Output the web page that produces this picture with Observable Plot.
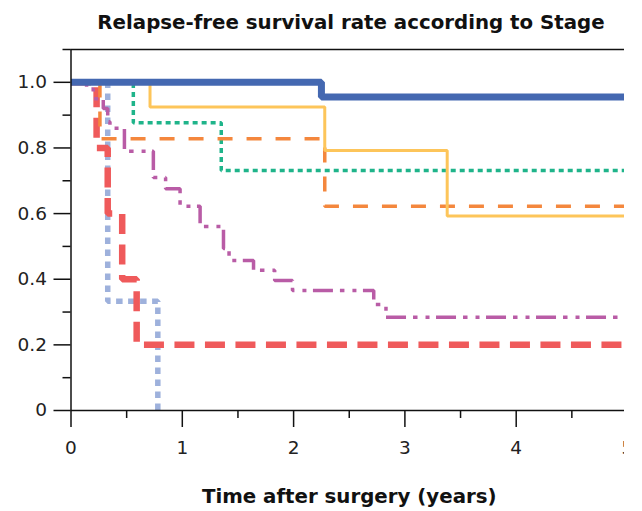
<!DOCTYPE html>
<html>
<head>
<meta charset="utf-8">
<script src="https://cdn.jsdelivr.net/npm/d3@7"></script>
<script src="https://cdn.jsdelivr.net/npm/@observablehq/plot@0.6"></script>
<style>
  body { margin: 0; background: #fff; }
  #page { position: relative; width: 642px; height: 511px; background: #fff; font-family: "DejaVu Sans", Verdana, sans-serif; }
  #title { position: absolute; left: 60px; width: 582px; top: 13px; font-size: 19.8px; line-height: 20px; font-weight: bold; text-align: center; color: #111; white-space: nowrap; }
  #clip { position: absolute; left: 0; top: 40px; width: 624px; height: 471px; overflow: hidden; }
  #clip svg { max-width: none !important; width: 642px !important; height: 471px !important; }
</style>
</head>
<body>
<div id="page">
  <div id="title">Relapse-free survival rate according to Stage</div>
  <div id="clip"></div>
</div>
<script>
// ---- data (time in years, relapse-free survival proportion) ----
const stageBlueT   = [0, 2.25, 5];
const stageBlueV   = [1, 0.955, 0.955];
const stageYellowT = [0, 0.71, 2.28, 3.38, 5];
const stageYellowV = [1, 0.925, 0.792, 0.593, 0.593];
const stageGreenT  = [0, 0.56, 1.35, 5];
const stageGreenV  = [1, 0.877, 0.731, 0.731];
const stageOrangeT = [0, 0.26, 2.28, 5];
const stageOrangeV = [1, 0.828, 0.622, 0.622];
const stagePurpleT = [0, 0.14, 0.2, 0.29, 0.33, 0.35, 0.48, 0.74, 0.85, 0.98, 1.16, 1.37, 1.42, 1.64, 1.83, 1.99, 2.72, 2.83, 5];
const stagePurpleV = [1, 0.98, 0.95, 0.92, 0.88, 0.86, 0.79, 0.71, 0.676, 0.622, 0.561, 0.494, 0.457, 0.427, 0.396, 0.366, 0.323, 0.284, 0.284];
const stageRedT    = [0, 0.23, 0.33, 0.46, 0.59, 5];
const stageRedV    = [1, 0.8, 0.6, 0.4, 0.2, 0.2];
const stageLightT  = [0, 0.33, 0.78];
const stageLightV  = [1, 0.333, 0];

const xDomain = [0, 5];
const yDomain = [0, 1.1];
const xMajor = [0, 1, 2, 3, 4, 5];
const xMinor = [0.5, 1.5, 2.5, 3.5, 4.5];
const yMajor = [0, 0.2, 0.4, 0.6, 0.8, 1.0];
const yMinor = [0.1, 0.3, 0.5, 0.7, 0.9, 1.1];
const xLabel = "Time after surgery (years)";

const toRows = (T, V) => T.map((t, i) => ({t, v: V[i]}));

const series = [
  {rows: toRows(stageLightT, stageLightV),  stroke: "#9eb1dc", width: 5.5, dash: "6.5,5.5"},
  {rows: toRows(stageRedT, stageRedV),      stroke: "#ef5a5b", width: 6.5, dash: "20,10.5"},
  {rows: toRows(stagePurpleT, stagePurpleV),stroke: "#b95ca6", width: 3.5, dash: "20,7,4.5,8,4,6.5"},
  {rows: toRows(stageGreenT, stageGreenV),  stroke: "#1fb48a", width: 3.5, dash: "5,4"},
  {rows: toRows(stageOrangeT, stageOrangeV),stroke: "#f4873d", width: 3.5, dash: "15,14"},
  {rows: toRows(stageYellowT, stageYellowV),stroke: "#fdc55a", width: 3,   dash: null},
  {rows: toRows(stageBlueT, stageBlueV),    stroke: "#4468b1", width: 7,   dash: null}
];

const axisStyle = {stroke: "#111", strokeWidth: 1.5};

const plot = Plot.plot({
  width: 642,
  height: 471,
  marginLeft: 70.5,
  marginRight: 15,
  marginTop: 9,
  marginBottom: 101,
  x: {domain: xDomain, label: null},
  y: {domain: yDomain, label: null},
  style: {fontFamily: "DejaVu Sans, Verdana, sans-serif", fontSize: "18.5px", color: "#222", background: "#fff", overflow: "visible", maxWidth: "none"},
  marks: [
    ...series.map(s => Plot.line(s.rows, {
      x: "t", y: "v", curve: "step-after",
      stroke: s.stroke, strokeWidth: s.width,
      strokeDasharray: s.dash, strokeLinecap: "butt", strokeLinejoin: "miter"
    })),
    Plot.ruleY([yDomain[0]], {...axisStyle}),
    Plot.ruleY([yDomain[1]], {...axisStyle}),
    Plot.ruleX([xDomain[0]], {y1: yDomain[0], y2: yDomain[1], ...axisStyle}),
    Plot.axisY(yMajor, {tickSize: 17, tickPadding: 7, label: null, tickFormat: d => d === 0 ? "0" : d.toFixed(1), ...axisStyle}),
    Plot.axisY(yMinor, {tickSize: 8, label: null, tickFormat: () => "", ...axisStyle}),
    Plot.axisX(xMajor, {tickSize: 17, tickPadding: 13, label: null, tickFormat: d => String(d), ...axisStyle}),
    Plot.axisX(xMinor, {tickSize: 8, label: null, tickFormat: () => "", ...axisStyle}),
    Plot.text([xLabel], {frameAnchor: "bottom", dy: 92, fontWeight: "bold", fontSize: 19.8, fill: "#111"})
  ]
});
document.getElementById("clip").appendChild(plot);
</script>
</body>
</html>
